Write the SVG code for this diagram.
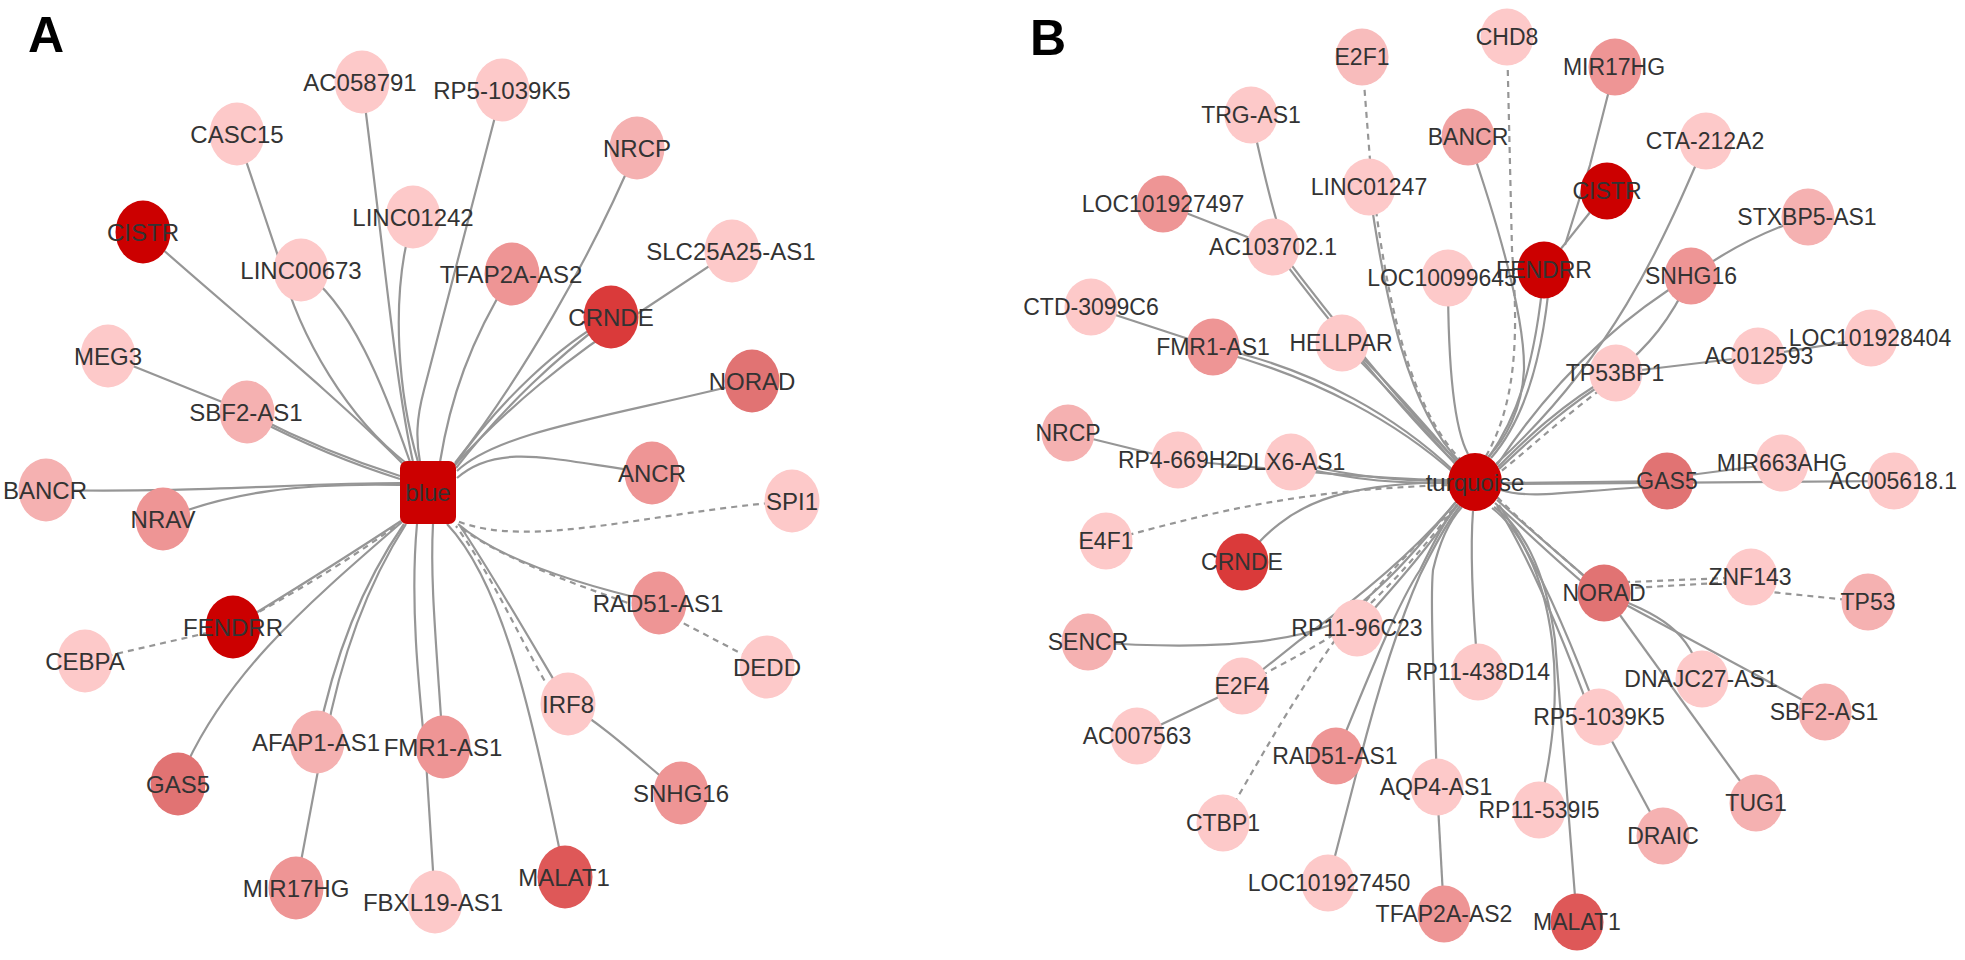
<svg xmlns="http://www.w3.org/2000/svg" width="1965" height="960" viewBox="0 0 1965 960">
<style>
.e{fill:none;stroke:#969696;stroke-width:2.2}
.d{fill:none;stroke:#969696;stroke-width:2.2;stroke-dasharray:6 5}
.t{font-family:"Liberation Sans",Arial,sans-serif;font-size:24px;fill:#333;text-anchor:middle}
.tb{font-family:"Liberation Sans",Arial,sans-serif;font-size:23px;fill:#333;text-anchor:middle}
.title{font-family:"Liberation Sans",Arial,sans-serif;font-size:50px;font-weight:bold;fill:#000}
.c0{fill:#cc0000}.c1{fill:#da3a3a}.c2{fill:#de5858}.c3{fill:#e17373}.c4{fill:#ee9595}.c4b{fill:#f1a2a2}.c5{fill:#f5b1b1}.c5b{fill:#f8bcbc}.c6{fill:#fdc9c9}
</style>
<rect width="1965" height="960" fill="#fff"/>
<text class="title" x="28" y="52">A</text>
<text class="title" x="1030" y="55">B</text>
<g id="edges-A">
<path class="e" d="M143,232 C230,310 330,390 403,464"/>
<path class="e" d="M237,134 L280,262 C300,340 350,420 406,463"/>
<path class="e" d="M301,270 C350,300 385,390 410,462"/>
<path class="e" d="M362,82 C385,260 395,380 413,462"/>
<path class="e" d="M413,217 C388,300 400,400 418,462"/>
<path class="e" d="M502,90 L424,390 C416,420 416,440 420,462"/>
<path class="e" d="M512,274 C470,340 450,400 440,462"/>
<path class="e" d="M637,148 C590,260 520,380 455,463"/>
<path class="e" d="M611,317 C560,345 500,400 454,466"/>
<path class="e" d="M605,322 C560,355 505,405 456,468"/>
<path class="e" d="M732,251 L640,312 C570,355 505,410 455,465"/>
<path class="e" d="M752,381 C620,415 500,430 457,471"/>
<path class="e" d="M652,473 C560,462 500,440 457,478"/>
<path class="d" d="M792,501 C650,512 530,550 457,521"/>
<path class="e" d="M659,603 C580,585 500,560 458,524"/>
<path class="d" d="M767,667 L683,623 C600,592 510,565 458,526"/>
<path class="e" d="M568,704 C530,640 490,570 460,526"/>
<path class="d" d="M550,690 C520,640 495,580 456,526"/>
<path class="e" d="M681,793 C640,760 610,730 568,704"/>
<path class="e" d="M565,877 C530,700 500,580 447,524"/>
<path class="e" d="M443,747 C436,640 430,580 433,524"/>
<path class="e" d="M435,902 L426,760 C418,680 410,600 417,524"/>
<path class="e" d="M317,742 C335,650 365,580 404,524"/>
<path class="e" d="M325,742 C342,650 370,580 406,524"/>
<path class="e" d="M296,888 L320,760"/>
<path class="e" d="M178,784 C220,680 300,610 402,522"/>
<path class="e" d="M233,627 C310,580 360,548 401,521"/>
<path class="d" d="M240,622 C310,585 360,552 400,523"/>
<path class="d" d="M85,661 L233,627"/>
<path class="e" d="M163,519 C230,492 300,483 400,485"/>
<path class="e" d="M46,490 C200,493 300,483 400,483"/>
<path class="e" d="M247,412 C300,440 350,460 400,476"/>
<path class="e" d="M250,416 C305,445 355,465 400,479"/>
<path class="e" d="M108,356 L247,412"/>
</g>
<g id="edges-B">
<path class="d" d="M1362,57 L1370,160 C1385,300 1410,410 1463,462"/>
<path class="e" d="M1369,187 C1385,300 1408,410 1461,463"/>
<path class="e" d="M1251,115 C1265,180 1275,220 1285,247"/>
<path class="e" d="M1163,204 L1273,247"/>
<path class="e" d="M1273,247 C1320,310 1400,410 1458,466"/>
<path class="e" d="M1280,250 C1325,310 1405,410 1460,464"/>
<path class="e" d="M1342,343 C1390,390 1425,430 1458,467"/>
<path class="e" d="M1350,345 C1395,390 1430,430 1460,466"/>
<path class="e" d="M1213,347 C1320,370 1400,420 1455,472"/>
<path class="e" d="M1091,307 L1213,347"/>
<path class="e" d="M1213,350 C1320,378 1400,425 1455,474"/>
<path class="e" d="M1448,278 C1448,370 1455,430 1468,454"/>
<path class="e" d="M1468,137 C1500,230 1525,320 1524,370 C1522,410 1505,440 1488,457"/>
<path class="d" d="M1507,37 L1512,250 C1518,330 1518,400 1486,456"/>
<path class="e" d="M1615,67 L1590,165 L1565,245"/>
<path class="e" d="M1607,191 L1544,270"/>
<path class="e" d="M1544,270 C1535,370 1515,420 1489,457"/>
<path class="e" d="M1550,275 C1542,370 1520,425 1491,458"/>
<path class="e" d="M1706,141 C1660,250 1610,360 1496,464"/>
<path class="e" d="M1691,276 C1600,330 1540,400 1497,465"/>
<path class="e" d="M1691,276 C1670,320 1650,345 1616,373"/>
<path class="e" d="M1808,217 C1760,232 1720,255 1691,276"/>
<path class="e" d="M1616,373 C1560,405 1525,440 1498,467"/>
<path class="e" d="M1612,378 C1560,410 1525,445 1499,469"/>
<path class="d" d="M1600,390 C1560,420 1530,448 1499,473"/>
<path class="e" d="M1758,356 L1616,373"/>
<path class="e" d="M1871,338 L1758,356"/>
<path class="e" d="M1667,481 L1503,483"/>
<path class="e" d="M1650,487 C1580,490 1530,500 1501,490"/>
<path class="e" d="M1782,463 L1667,478"/>
<path class="e" d="M1894,481 L1503,484"/>
<path class="e" d="M1604,593 C1560,555 1525,525 1497,500"/>
<path class="e" d="M1600,597 C1555,560 1525,530 1495,503"/>
<path class="d" d="M1600,590 C1560,555 1525,525 1497,497"/>
<path class="d" d="M1751,577 L1604,583"/>
<path class="d" d="M1751,581 L1632,588"/>
<path class="d" d="M1868,602 L1751,590"/>
<path class="e" d="M1702,679 C1690,630 1660,615 1604,593"/>
<path class="e" d="M1825,712 L1604,593"/>
<path class="e" d="M1756,803 L1604,593"/>
<path class="e" d="M1599,717 C1565,625 1530,550 1499,505"/>
<path class="e" d="M1592,717 C1558,625 1525,550 1497,506"/>
<path class="e" d="M1663,836 L1599,717"/>
<path class="e" d="M1577,922 C1568,800 1560,700 1555,640 C1545,565 1520,525 1494,507"/>
<path class="e" d="M1539,810 C1555,740 1558,690 1552,640 C1543,570 1518,528 1492,508"/>
<path class="e" d="M1478,672 C1472,600 1470,550 1473,511"/>
<path class="e" d="M1437,787 C1434,680 1430,600 1433,570 C1440,540 1450,520 1462,507"/>
<path class="e" d="M1444,914 L1437,787"/>
<path class="e" d="M1336,756 C1375,660 1400,600 1420,570 C1435,540 1445,520 1458,505"/>
<path class="e" d="M1328,883 L1356,775 C1380,680 1400,620 1420,575 C1435,545 1447,522 1460,506"/>
<path class="e" d="M1357,628 C1400,580 1435,540 1457,504"/>
<path class="e" d="M1088,642 C1200,650 1280,645 1330,625 C1380,595 1420,545 1455,503"/>
<path class="e" d="M1242,686 L1300,640 C1370,590 1420,545 1456,502"/>
<path class="d" d="M1242,686 C1280,665 1320,645 1340,630 C1390,590 1425,545 1457,505"/>
<path class="e" d="M1137,736 L1242,686"/>
<path class="d" d="M1223,823 C1270,740 1300,690 1333,643 C1380,580 1420,540 1458,505"/>
<path class="e" d="M1242,562 C1290,500 1340,485 1449,482"/>
<path class="d" d="M1106,541 C1220,510 1300,490 1449,485"/>
<path class="e" d="M1291,462 C1360,478 1400,481 1449,481"/>
<path class="e" d="M1295,466 C1360,482 1400,483 1449,483"/>
<path class="e" d="M1178,460 C1300,472 1400,480 1449,480"/>
<path class="e" d="M1068,433 L1178,460"/>
</g>
<g id="hub-blue"><rect class="c0" x="400" y="461" width="56" height="63" rx="7"/><text class="t" x="428" y="501">blue</text></g>
<g id="A-AC058791"><ellipse class="c6" cx="362" cy="82" rx="27.5" ry="31.5"/><text class="t" x="360" y="91">AC058791</text></g>
<g id="A-CASC15"><ellipse class="c6" cx="237" cy="134" rx="27.5" ry="31.5"/><text class="t" x="237" y="143">CASC15</text></g>
<g id="A-CISTR"><ellipse class="c0" cx="143" cy="232" rx="27.5" ry="31.5"/><text class="t" x="143" y="241">CISTR</text></g>
<g id="A-LINC00673"><ellipse class="c6" cx="301" cy="270" rx="27.5" ry="31.5"/><text class="t" x="301" y="279">LINC00673</text></g>
<g id="A-MEG3"><ellipse class="c6" cx="108" cy="356" rx="27.5" ry="31.5"/><text class="t" x="108" y="365">MEG3</text></g>
<g id="A-SBF2-AS1"><ellipse class="c5" cx="247" cy="412" rx="27.5" ry="31.5"/><text class="t" x="246" y="421">SBF2-AS1</text></g>
<g id="A-BANCR"><ellipse class="c5" cx="46" cy="490" rx="27.5" ry="31.5"/><text class="t" x="45" y="499">BANCR</text></g>
<g id="A-LINC01242"><ellipse class="c6" cx="413" cy="217" rx="27.5" ry="31.5"/><text class="t" x="413" y="226">LINC01242</text></g>
<g id="A-RP5-1039K5"><ellipse class="c6" cx="502" cy="90" rx="27.5" ry="31.5"/><text class="t" x="502" y="99">RP5-1039K5</text></g>
<g id="A-NRCP"><ellipse class="c5" cx="637" cy="148" rx="27.5" ry="31.5"/><text class="t" x="637" y="157">NRCP</text></g>
<g id="A-TFAP2A-AS2"><ellipse class="c4" cx="512" cy="274" rx="27.5" ry="31.5"/><text class="t" x="511" y="283">TFAP2A-AS2</text></g>
<g id="A-SLC25A25-AS1"><ellipse class="c6" cx="732" cy="251" rx="27.5" ry="31.5"/><text class="t" x="731" y="260">SLC25A25-AS1</text></g>
<g id="A-CRNDE"><ellipse class="c1" cx="611" cy="317" rx="27.5" ry="31.5"/><text class="t" x="611" y="326">CRNDE</text></g>
<g id="A-NORAD"><ellipse class="c3" cx="752" cy="381" rx="27.5" ry="31.5"/><text class="t" x="752" y="390">NORAD</text></g>
<g id="A-ANCR"><ellipse class="c4" cx="652" cy="473" rx="27.5" ry="31.5"/><text class="t" x="652" y="482">ANCR</text></g>
<g id="A-SPI1"><ellipse class="c6" cx="792" cy="501" rx="27.5" ry="31.5"/><text class="t" x="792" y="510">SPI1</text></g>
<g id="A-RAD51-AS1"><ellipse class="c4" cx="659" cy="603" rx="27.5" ry="31.5"/><text class="t" x="658" y="612">RAD51-AS1</text></g>
<g id="A-DEDD"><ellipse class="c6" cx="767" cy="667" rx="27.5" ry="31.5"/><text class="t" x="767" y="676">DEDD</text></g>
<g id="A-IRF8"><ellipse class="c6" cx="568" cy="704" rx="27.5" ry="31.5"/><text class="t" x="568" y="713">IRF8</text></g>
<g id="A-SNHG16"><ellipse class="c4" cx="681" cy="793" rx="27.5" ry="31.5"/><text class="t" x="681" y="802">SNHG16</text></g>
<g id="A-MALAT1"><ellipse class="c2" cx="565" cy="877" rx="27.5" ry="31.5"/><text class="t" x="564" y="886">MALAT1</text></g>
<g id="A-FMR1-AS1"><ellipse class="c4" cx="443" cy="747" rx="27.5" ry="31.5"/><text class="t" x="443" y="756">FMR1-AS1</text></g>
<g id="A-FBXL19-AS1"><ellipse class="c6" cx="435" cy="902" rx="27.5" ry="31.5"/><text class="t" x="433" y="911">FBXL19-AS1</text></g>
<g id="A-NRAV"><ellipse class="c4" cx="163" cy="519" rx="27.5" ry="31.5"/><text class="t" x="163" y="528">NRAV</text></g>
<g id="A-FENDRR"><ellipse class="c0" cx="233" cy="627" rx="27.5" ry="31.5"/><text class="t" x="233" y="636">FENDRR</text></g>
<g id="A-CEBPA"><ellipse class="c6" cx="85" cy="661" rx="27.5" ry="31.5"/><text class="t" x="85" y="670">CEBPA</text></g>
<g id="A-AFAP1-AS1"><ellipse class="c5" cx="317" cy="742" rx="27.5" ry="31.5"/><text class="t" x="316" y="751">AFAP1-AS1</text></g>
<g id="A-GAS5"><ellipse class="c3" cx="178" cy="784" rx="27.5" ry="31.5"/><text class="t" x="178" y="793">GAS5</text></g>
<g id="A-MIR17HG"><ellipse class="c4" cx="296" cy="888" rx="27.5" ry="31.5"/><text class="t" x="296" y="897">MIR17HG</text></g>
<g id="hub-turquoise"><ellipse class="c0" cx="1475" cy="482" rx="27" ry="29"/><text class="t" x="1475" y="491">turquoise</text></g>
<g id="B-E2F1"><ellipse class="c5b" cx="1362" cy="57" rx="26.5" ry="28.5"/><text class="tb" x="1362" y="65">E2F1</text></g>
<g id="B-TRG-AS1"><ellipse class="c6" cx="1251" cy="115" rx="26.5" ry="28.5"/><text class="tb" x="1251" y="123">TRG-AS1</text></g>
<g id="B-BANCR"><ellipse class="c4b" cx="1468" cy="137" rx="26.5" ry="28.5"/><text class="tb" x="1468" y="145">BANCR</text></g>
<g id="B-LINC01247"><ellipse class="c6" cx="1369" cy="187" rx="26.5" ry="28.5"/><text class="tb" x="1369" y="195">LINC01247</text></g>
<g id="B-LOC101927497"><ellipse class="c4" cx="1163" cy="204" rx="26.5" ry="28.5"/><text class="tb" x="1163" y="212">LOC101927497</text></g>
<g id="B-AC103702.1"><ellipse class="c6" cx="1273" cy="247" rx="26.5" ry="28.5"/><text class="tb" x="1273" y="255">AC103702.1</text></g>
<g id="B-FENDRR"><ellipse class="c0" cx="1544" cy="270" rx="26.5" ry="28.5"/><text class="tb" x="1544" y="278">FENDRR</text></g>
<g id="B-LOC10099645"><ellipse class="c6" cx="1448" cy="278" rx="26.5" ry="28.5"/><text class="tb" x="1442" y="286">LOC10099645</text></g>
<g id="B-CTD-3099C6"><ellipse class="c6" cx="1091" cy="307" rx="26.5" ry="28.5"/><text class="tb" x="1091" y="315">CTD-3099C6</text></g>
<g id="B-FMR1-AS1"><ellipse class="c4" cx="1213" cy="347" rx="26.5" ry="28.5"/><text class="tb" x="1213" y="355">FMR1-AS1</text></g>
<g id="B-HELLPAR"><ellipse class="c6" cx="1342" cy="343" rx="26.5" ry="28.5"/><text class="tb" x="1341" y="351">HELLPAR</text></g>
<g id="B-NRCP"><ellipse class="c5" cx="1068" cy="433" rx="26.5" ry="28.5"/><text class="tb" x="1068" y="441">NRCP</text></g>
<g id="B-RP4-669H2"><ellipse class="c6" cx="1178" cy="460" rx="26.5" ry="28.5"/><text class="tb" x="1178" y="468">RP4-669H2</text></g>
<g id="B-DLX6-AS1"><ellipse class="c6" cx="1291" cy="462" rx="26.5" ry="28.5"/><text class="tb" x="1291" y="470">DLX6-AS1</text></g>
<g id="B-CHD8"><ellipse class="c6" cx="1507" cy="37" rx="26.5" ry="28.5"/><text class="tb" x="1507" y="45">CHD8</text></g>
<g id="B-MIR17HG"><ellipse class="c4" cx="1615" cy="67" rx="26.5" ry="28.5"/><text class="tb" x="1614" y="75">MIR17HG</text></g>
<g id="B-CTA-212A2"><ellipse class="c6" cx="1706" cy="141" rx="26.5" ry="28.5"/><text class="tb" x="1705" y="149">CTA-212A2</text></g>
<g id="B-CISTR"><ellipse class="c0" cx="1607" cy="191" rx="26.5" ry="28.5"/><text class="tb" x="1607" y="199">CISTR</text></g>
<g id="B-STXBP5-AS1"><ellipse class="c5" cx="1808" cy="217" rx="26.5" ry="28.5"/><text class="tb" x="1807" y="225">STXBP5-AS1</text></g>
<g id="B-SNHG16"><ellipse class="c4" cx="1691" cy="276" rx="26.5" ry="28.5"/><text class="tb" x="1691" y="284">SNHG16</text></g>
<g id="B-LOC101928404"><ellipse class="c6" cx="1871" cy="338" rx="26.5" ry="28.5"/><text class="tb" x="1870" y="346">LOC101928404</text></g>
<g id="B-AC012593"><ellipse class="c6" cx="1758" cy="356" rx="26.5" ry="28.5"/><text class="tb" x="1759" y="364">AC012593</text></g>
<g id="B-TP53BP1"><ellipse class="c6" cx="1616" cy="373" rx="26.5" ry="28.5"/><text class="tb" x="1615" y="381">TP53BP1</text></g>
<g id="B-GAS5"><ellipse class="c3" cx="1667" cy="481" rx="26.5" ry="28.5"/><text class="tb" x="1667" y="489">GAS5</text></g>
<g id="B-MIR663AHG"><ellipse class="c6" cx="1782" cy="463" rx="26.5" ry="28.5"/><text class="tb" x="1782" y="471">MIR663AHG</text></g>
<g id="B-AC005618.1"><ellipse class="c6" cx="1894" cy="481" rx="26.5" ry="28.5"/><text class="tb" x="1893" y="489">AC005618.1</text></g>
<g id="B-NORAD"><ellipse class="c3" cx="1604" cy="593" rx="26.5" ry="28.5"/><text class="tb" x="1604" y="601">NORAD</text></g>
<g id="B-ZNF143"><ellipse class="c6" cx="1751" cy="577" rx="26.5" ry="28.5"/><text class="tb" x="1750" y="585">ZNF143</text></g>
<g id="B-TP53"><ellipse class="c5" cx="1868" cy="602" rx="26.5" ry="28.5"/><text class="tb" x="1868" y="610">TP53</text></g>
<g id="B-DNAJC27-AS1"><ellipse class="c6" cx="1702" cy="679" rx="26.5" ry="28.5"/><text class="tb" x="1701" y="687">DNAJC27-AS1</text></g>
<g id="B-SBF2-AS1"><ellipse class="c5" cx="1825" cy="712" rx="26.5" ry="28.5"/><text class="tb" x="1824" y="720">SBF2-AS1</text></g>
<g id="B-RP5-1039K5"><ellipse class="c6" cx="1599" cy="717" rx="26.5" ry="28.5"/><text class="tb" x="1599" y="725">RP5-1039K5</text></g>
<g id="B-TUG1"><ellipse class="c5" cx="1756" cy="803" rx="26.5" ry="28.5"/><text class="tb" x="1756" y="811">TUG1</text></g>
<g id="B-DRAIC"><ellipse class="c5" cx="1663" cy="836" rx="26.5" ry="28.5"/><text class="tb" x="1663" y="844">DRAIC</text></g>
<g id="B-RP11-539I5"><ellipse class="c6" cx="1539" cy="810" rx="26.5" ry="28.5"/><text class="tb" x="1539" y="818">RP11-539I5</text></g>
<g id="B-MALAT1"><ellipse class="c2" cx="1577" cy="922" rx="26.5" ry="28.5"/><text class="tb" x="1577" y="930">MALAT1</text></g>
<g id="B-RP11-438D14"><ellipse class="c6" cx="1478" cy="672" rx="26.5" ry="28.5"/><text class="tb" x="1478" y="680">RP11-438D14</text></g>
<g id="B-E4F1"><ellipse class="c6" cx="1106" cy="541" rx="26.5" ry="28.5"/><text class="tb" x="1106" y="549">E4F1</text></g>
<g id="B-CRNDE"><ellipse class="c1" cx="1242" cy="562" rx="26.5" ry="28.5"/><text class="tb" x="1242" y="570">CRNDE</text></g>
<g id="B-SENCR"><ellipse class="c5" cx="1088" cy="642" rx="26.5" ry="28.5"/><text class="tb" x="1088" y="650">SENCR</text></g>
<g id="B-RP11-96C23"><ellipse class="c6" cx="1357" cy="628" rx="26.5" ry="28.5"/><text class="tb" x="1357" y="636">RP11-96C23</text></g>
<g id="B-E2F4"><ellipse class="c6" cx="1242" cy="686" rx="26.5" ry="28.5"/><text class="tb" x="1242" y="694">E2F4</text></g>
<g id="B-AC007563"><ellipse class="c6" cx="1137" cy="736" rx="26.5" ry="28.5"/><text class="tb" x="1137" y="744">AC007563</text></g>
<g id="B-RAD51-AS1"><ellipse class="c4" cx="1336" cy="756" rx="26.5" ry="28.5"/><text class="tb" x="1335" y="764">RAD51-AS1</text></g>
<g id="B-AQP4-AS1"><ellipse class="c6" cx="1437" cy="787" rx="26.5" ry="28.5"/><text class="tb" x="1436" y="795">AQP4-AS1</text></g>
<g id="B-CTBP1"><ellipse class="c6" cx="1223" cy="823" rx="26.5" ry="28.5"/><text class="tb" x="1223" y="831">CTBP1</text></g>
<g id="B-LOC101927450"><ellipse class="c6" cx="1328" cy="883" rx="26.5" ry="28.5"/><text class="tb" x="1329" y="891">LOC101927450</text></g>
<g id="B-TFAP2A-AS2"><ellipse class="c4" cx="1444" cy="914" rx="26.5" ry="28.5"/><text class="tb" x="1444" y="922">TFAP2A-AS2</text></g>
</svg>
